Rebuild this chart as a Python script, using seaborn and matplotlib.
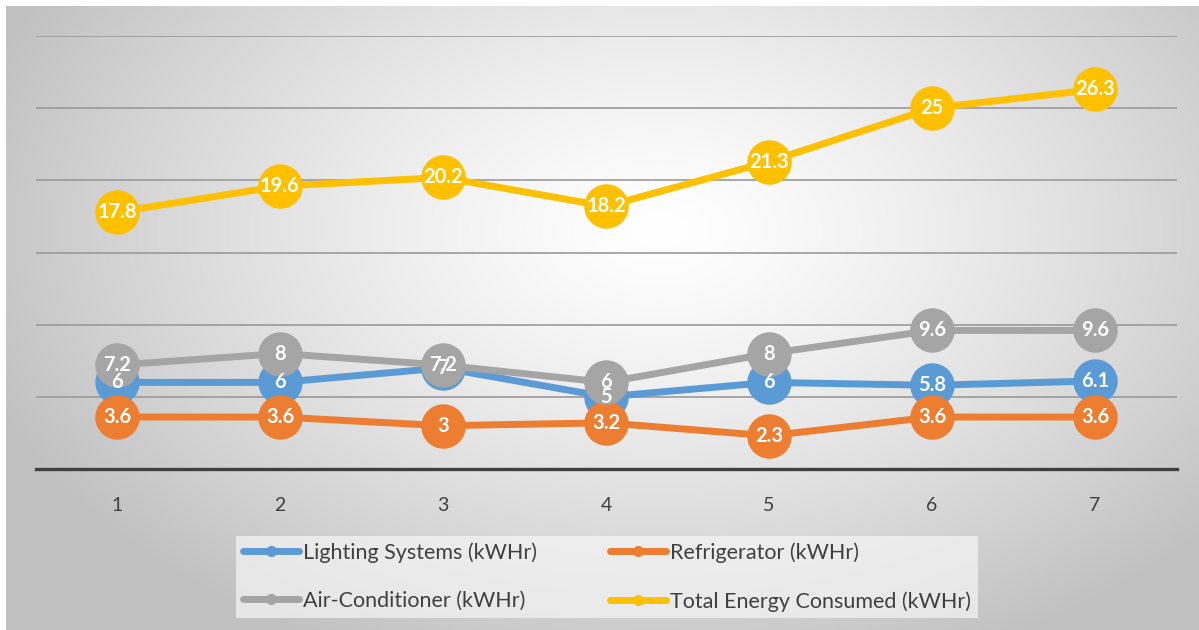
import numpy as np
import pandas as pd
import matplotlib
matplotlib.use("Agg")
import matplotlib.pyplot as plt
import seaborn as sns
from matplotlib.lines import Line2D

# ---- data ----
points = [1, 2, 3, 4, 5, 6, 7]
lighting = [6, 6, 7, 5, 6, 5.8, 6.1]
refrigerator = [3.6, 3.6, 3, 3.2, 2.3, 3.6, 3.6]
air_conditioner = [7.2, 8, 7.2, 6, 8, 9.6, 9.6]
total_energy = [17.8, 19.6, 20.2, 18.2, 21.3, 25, 26.3]
series_names = ["Lighting Systems (kWHr)", "Refrigerator (kWHr)",
                "Air-Conditioner (kWHr)", "Total Energy Consumed (kWHr)"]
colors = ["#5B9BD5", "#ED7D31", "#A5A5A5", "#FFC000"]

series_values = [lighting, refrigerator, air_conditioner, total_energy]
df = pd.DataFrame({
    "x": np.tile(points, 4),
    "value": np.concatenate(series_values),
    "series": np.repeat(series_names, len(points)),
})

sns.set_theme(style="white")
plt.rcParams['font.family'] = ['Lato', 'DejaVu Sans']

W, H = 1199, 630
fig = plt.figure(figsize=(W / 100, H / 100), dpi=100, facecolor="white")

# background radial gradient panel
bg = fig.add_axes([6 / W, 0, 1 - 6 / W, 1 - 6 / H], zorder=-10)
gx = np.linspace(6, W, 600)
gy = np.linspace(6, H, 320)
XX, YY = np.meshgrid(gx, gy)
r = np.sqrt(((XX - 660) / 720) ** 2 + ((YY - 230) / 470) ** 2)
r = np.clip(r, 0, 1)
val = 255 - 62 * r ** 1.3
img = np.dstack([val, val, val]).astype(np.uint8)
bg.imshow(img, aspect="auto", extent=[0, 1, 0, 1], interpolation="bilinear")
bg.set_axis_off()

ax = fig.add_axes([35.5 / W, 1 - 469 / H, (1176.5 - 35.5) / W, (469 - 36) / H])
ax.set_facecolor("none")

sns.lineplot(data=df, x="x", y="value", hue="series", hue_order=series_names,
             palette=colors, marker="o", markersize=32, markeredgewidth=0,
             linewidth=5, ax=ax, legend=False, sort=False)

# data labels
for vals in series_values:
    for xi, v in zip(points, vals):
        ax.text(xi, v, f"{v:g}", ha="center", va="center", color="white",
                fontsize=14.5, fontweight="bold", zorder=10)

ax.set_xlim(0.5, 7.5)
ax.set_ylim(0, 30)
ax.set_yticks([5, 10, 15, 20, 25, 30])
ax.yaxis.grid(True, color="#9a9a9a", linewidth=1.2)
ax.set_axisbelow(True)
ax.set_yticklabels([])
ax.tick_params(axis="y", length=0)
ax.set_xticks(points)
ax.set_xticklabels([str(p) for p in points], fontsize=14, color="#404040")
ax.tick_params(axis="x", length=0, pad=20)
ax.set_xlabel("")
ax.set_ylabel("")
for side in ["top", "left", "right"]:
    ax.spines[side].set_visible(False)
ax.spines["bottom"].set_color("#404040")
ax.spines["bottom"].set_linewidth(2.4)

handles = [Line2D([0], [0], color=c, linewidth=5, marker="o", markersize=8,
                  markeredgewidth=0) for c in colors]
# matplotlib fills legend column-wise; reorder so rows read as in reference
order = [0, 2, 1, 3]
leg = fig.legend([handles[i] for i in order], [series_names[i] for i in order],
                 loc="center", bbox_to_anchor=(607 / W, 1 - 577 / H), ncol=2,
                 fontsize=15.5, frameon=True, handlelength=2.6,
                 handletextpad=0.2, columnspacing=3.4, labelspacing=1.3,
                 borderpad=0.3, borderaxespad=0, fancybox=False)
leg.get_frame().set_facecolor("#f6f6f6")
leg.get_frame().set_alpha(0.7)
leg.get_frame().set_edgecolor("none")
for t in leg.get_texts():
    t.set_color("#404040")

fig.savefig("out.png", dpi=100, facecolor="white")
